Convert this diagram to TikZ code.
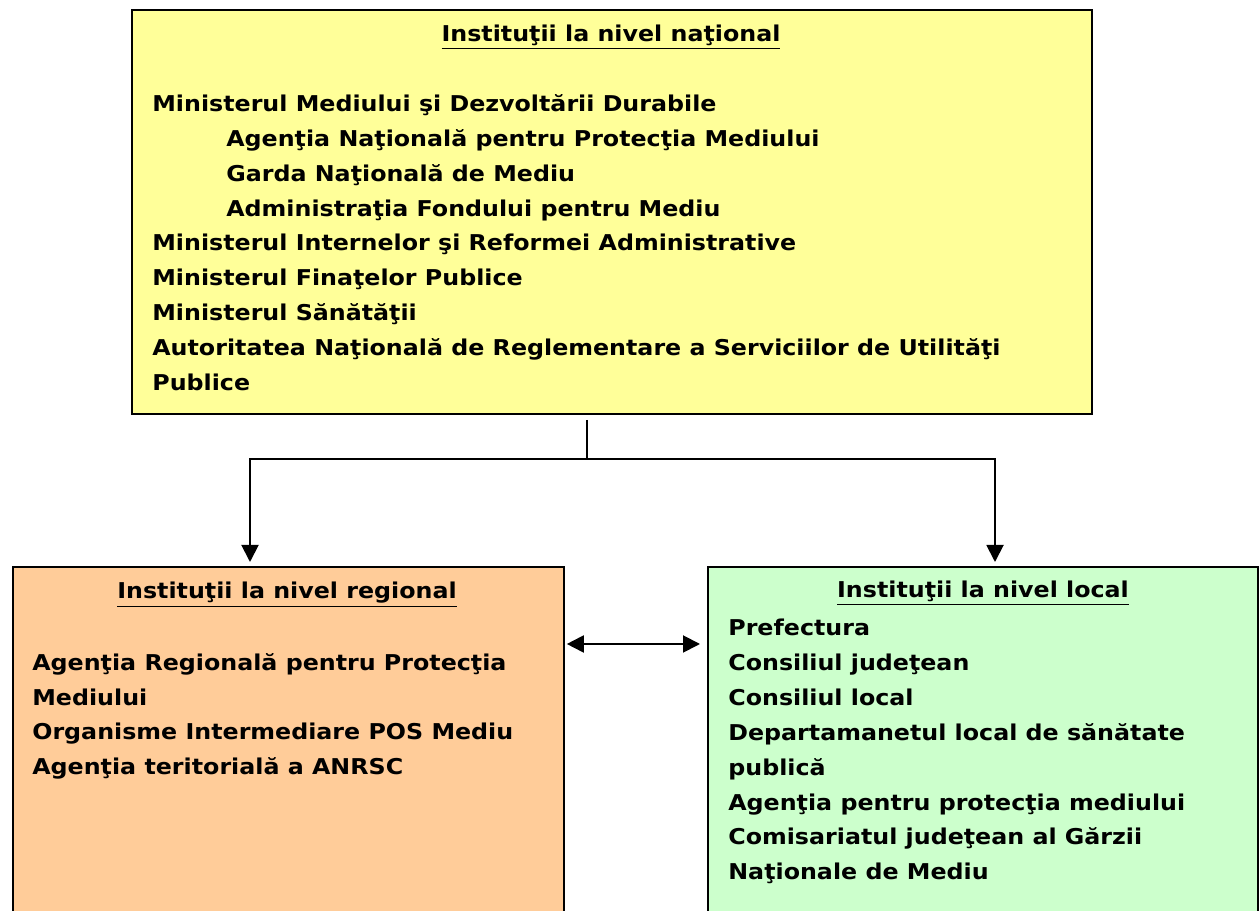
\documentclass[tikz,border=0pt]{standalone}
\usepackage{fontspec}
\setmainfont{DejaVu Sans}[FakeStretch=1.09]
\usepackage{xcolor}
\usetikzlibrary{positioning,calc,arrows.meta}
\definecolor{natyellow}{HTML}{FFFF99}
\definecolor{regorange}{HTML}{FFCC99}
\definecolor{locgreen}{HTML}{CCFFCC}

\begin{document}
\begin{tikzpicture}[x=0.02cm, y=-0.02cm,
    box/.style={draw, line width=1.1pt, anchor=north west, inner sep=0pt},
    txt/.style={inner sep=0pt, align=left, font=\bfseries\fontsize{12.4}{19.92}\selectfont},
    arr/.style={line width=1.1pt, -{Triangle[width=0.34cm,length=0.34cm]}},
    dblarr/.style={line width=1.1pt, {Triangle[width=0.34cm,length=0.34cm]}-{Triangle[width=0.34cm,length=0.34cm]}}]
    \useasboundingbox (0,0) rectangle (1259,911);
    \clip (0,0) rectangle (1259,911);

    % Boxes
    \node[box, fill=natyellow, minimum width=19.2cm, minimum height=8.08cm] (national) at (131,9) {};
    \node[box, fill=regorange, minimum width=11.02cm, minimum height=7.3cm] (regional) at (12,566) {};
    \node[box, fill=locgreen, minimum width=11cm, minimum height=7.3cm] (local) at (707,566) {};

    % National level (base = last line)
    \node[txt, anchor=base] (nat-title) at (611,42) {\underline{Instituţii la nivel naţional}};
    \node[txt, anchor=base west] (nat-list) at (152,391) {Ministerul Mediului şi Dezvoltării Durabile\\
        \hspace*{1.48cm}Agenţia Naţională pentru Protecţia Mediului\\
        \hspace*{1.48cm}Garda Naţională de Mediu\\
        \hspace*{1.48cm}Administraţia Fondului pentru Mediu\\
        Ministerul Internelor şi Reformei Administrative\\
        Ministerul Finaţelor Publice\\
        Ministerul Sănătăţii\\
        Autoritatea Naţională de Reglementare a Serviciilor de Utilităţi\\
        Publice};

    % Regional level
    \node[txt, anchor=base] (reg-title) at (287,599) {\underline{Instituţii la nivel regional}};
    \node[txt, anchor=base west] (reg-list) at (32,775) {Agenţia Regională pentru Protecţia\\
        Mediului\\
        Organisme Intermediare POS Mediu\\
        Agenţia teritorială a ANRSC};

    % Local level
    \node[txt, anchor=base] (loc-title) at (983,598) {\underline{Instituţii la nivel local}};
    \node[txt, anchor=base west] (loc-list) at (728,880) {Prefectura\\
        Consiliul judeţean\\
        Consiliul local\\
        Departamanetul local de sănătate\\
        publică\\
        Agenţia pentru protecţia mediului\\
        Comisariatul judeţean al Gărzii\\
        Naţionale de Mediu};

    % Connectors
    \coordinate (split) at (587,459);
    \coordinate (reg-in) at (250,562);
    \coordinate (loc-in) at (995,562);
    \draw[line width=1.1pt] ([yshift=-0.1cm]split |- national.south) -- (split);
    \draw[arr] (split) -| (reg-in);
    \draw[arr] (split) -| (loc-in);
    \draw[dblarr] ([shift={(2,78)}]regional.north east) -- ([shift={(-7,78)}]local.north west);
\end{tikzpicture}
\end{document}
